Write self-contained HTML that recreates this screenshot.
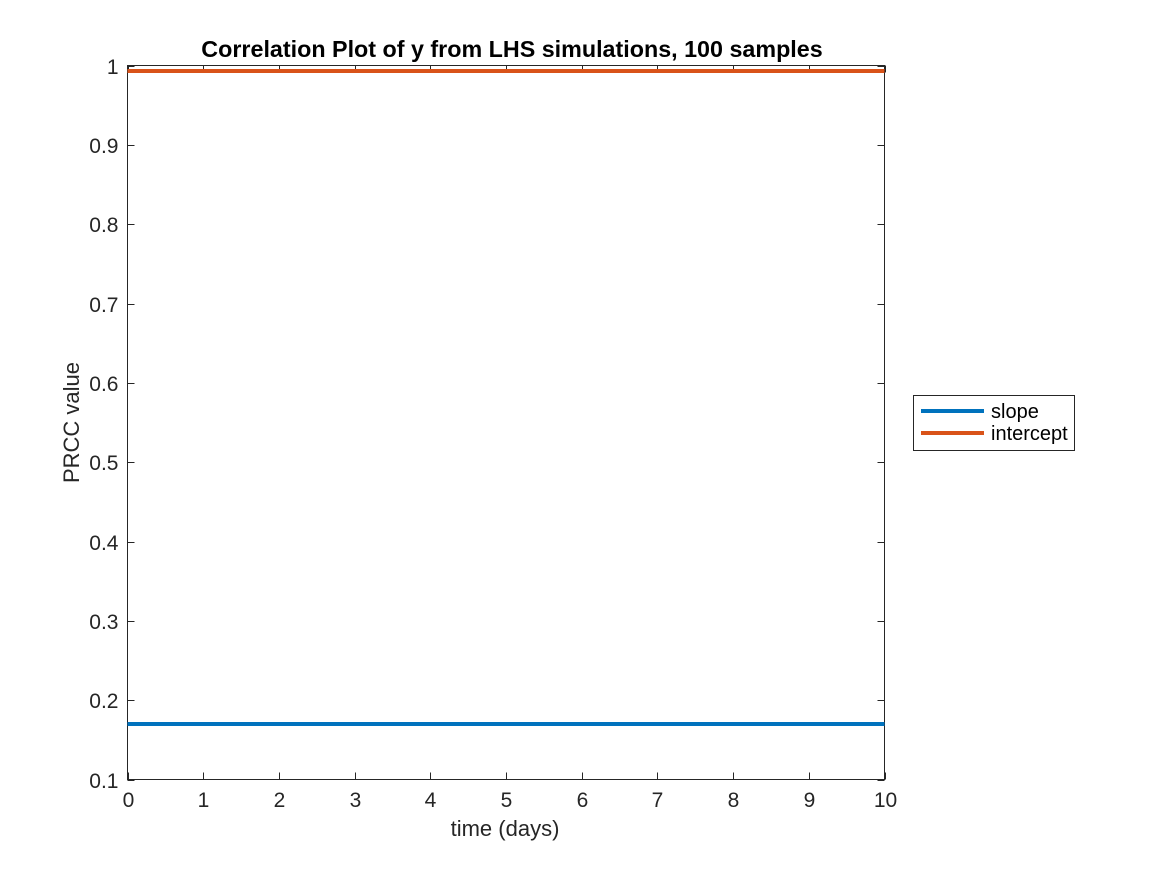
<!DOCTYPE html>
<html><head><meta charset="utf-8"><style>body{margin:0;background:#fff}svg{display:block;font-family:"Liberation Sans",Arial,sans-serif}</style></head>
<body>
<svg id="c" width="1167" height="875"></svg>
<script>
const xTicks=[0,1,2,3,4,5,6,7,8,9,10];
const yTicks=[0.1,0.2,0.3,0.4,0.5,0.6,0.7,0.8,0.9,1];
const times=[0,1,2,3,4,5,6,7,8,9,10];
const slopeVals=[0.17,0.17,0.17,0.17,0.17,0.17,0.17,0.17,0.17,0.17,0.17];
const interceptVals=[0.993,0.993,0.993,0.993,0.993,0.993,0.993,0.993,0.993,0.993,0.993];
const seriesNames=["slope","intercept"];
const L=127.5,R=884.5,T=65.5,B=779.5;
const sx=v=>L+(v-0)/(10-0)*(R-L);
const sy=v=>B-(v-0.1)/(1-0.1)*(B-T);
const svg=document.getElementById('c');
const NS='http://www.w3.org/2000/svg';
function mk(tag,attrs,parent){const e=document.createElementNS(NS,tag);for(const k in attrs)e.setAttribute(k,attrs[k]);(parent||svg).appendChild(e);return e;}
let e;
e=mk('rect',{x:L,y:T,width:R-L,height:B-T,fill:'#fff',stroke:'#262626','stroke-width':1});


xTicks.forEach(t=>{const x=Math.round(sx(t))+0.5;
 e=mk('path',{d:`M${x},${B}v-7M${x},${T}v7`,stroke:'#262626'});
 
 
 e=mk('text',{x:x,y:807,'text-anchor':'middle','font-size':21,fill:'#262626'});e.textContent=t;
 
 });
yTicks.forEach(t=>{const y=Math.round(sy(t))+0.5;
 e=mk('path',{d:`M${L},${y}h7M${R},${y}h-7`,stroke:'#262626'});
 
 
 e=mk('text',{x:L-9,y:y+7.5,'text-anchor':'end','font-size':21,fill:'#262626'});e.textContent=String(Math.round(t*10)/10);
 
 });
const colors=['#0072BD','#D95319'];
[slopeVals,interceptVals].forEach((vals,i)=>{
 e=mk('polyline',{points:vals.map((v,j)=>sx(times[j])+','+sy(v)).join(' '),fill:'none',stroke:colors[i],'stroke-width':4});
 
 });
e=mk('text',{x:512,y:57,'text-anchor':'middle','font-size':23.3,'font-weight':'bold',fill:'#000'});e.textContent='Correlation Plot of y from LHS simulations, 100 samples';


e=mk('text',{x:505,y:836,'text-anchor':'middle','font-size':22,fill:'#262626'});e.textContent='time (days)';


e=mk('text',{x:0,y:0,transform:`translate(79,${(T+B)/2}) rotate(-90)`,'text-anchor':'middle','font-size':22,fill:'#262626'});e.textContent='PRCC value';


const lg=mk('g',{});


mk('rect',{x:913.5,y:395.5,width:161,height:55,fill:'#fff',stroke:'#262626'},lg);
seriesNames.forEach((n,i)=>{const y=411+i*22;
 e=mk('line',{x1:921,x2:984,y1:y,y2:y,stroke:colors[i],'stroke-width':4},lg);
 
 
 e=mk('text',{x:991,y:y+7,'font-size':20,fill:'#000'},lg);e.textContent=n;
 
 });
</script>
</body></html>
